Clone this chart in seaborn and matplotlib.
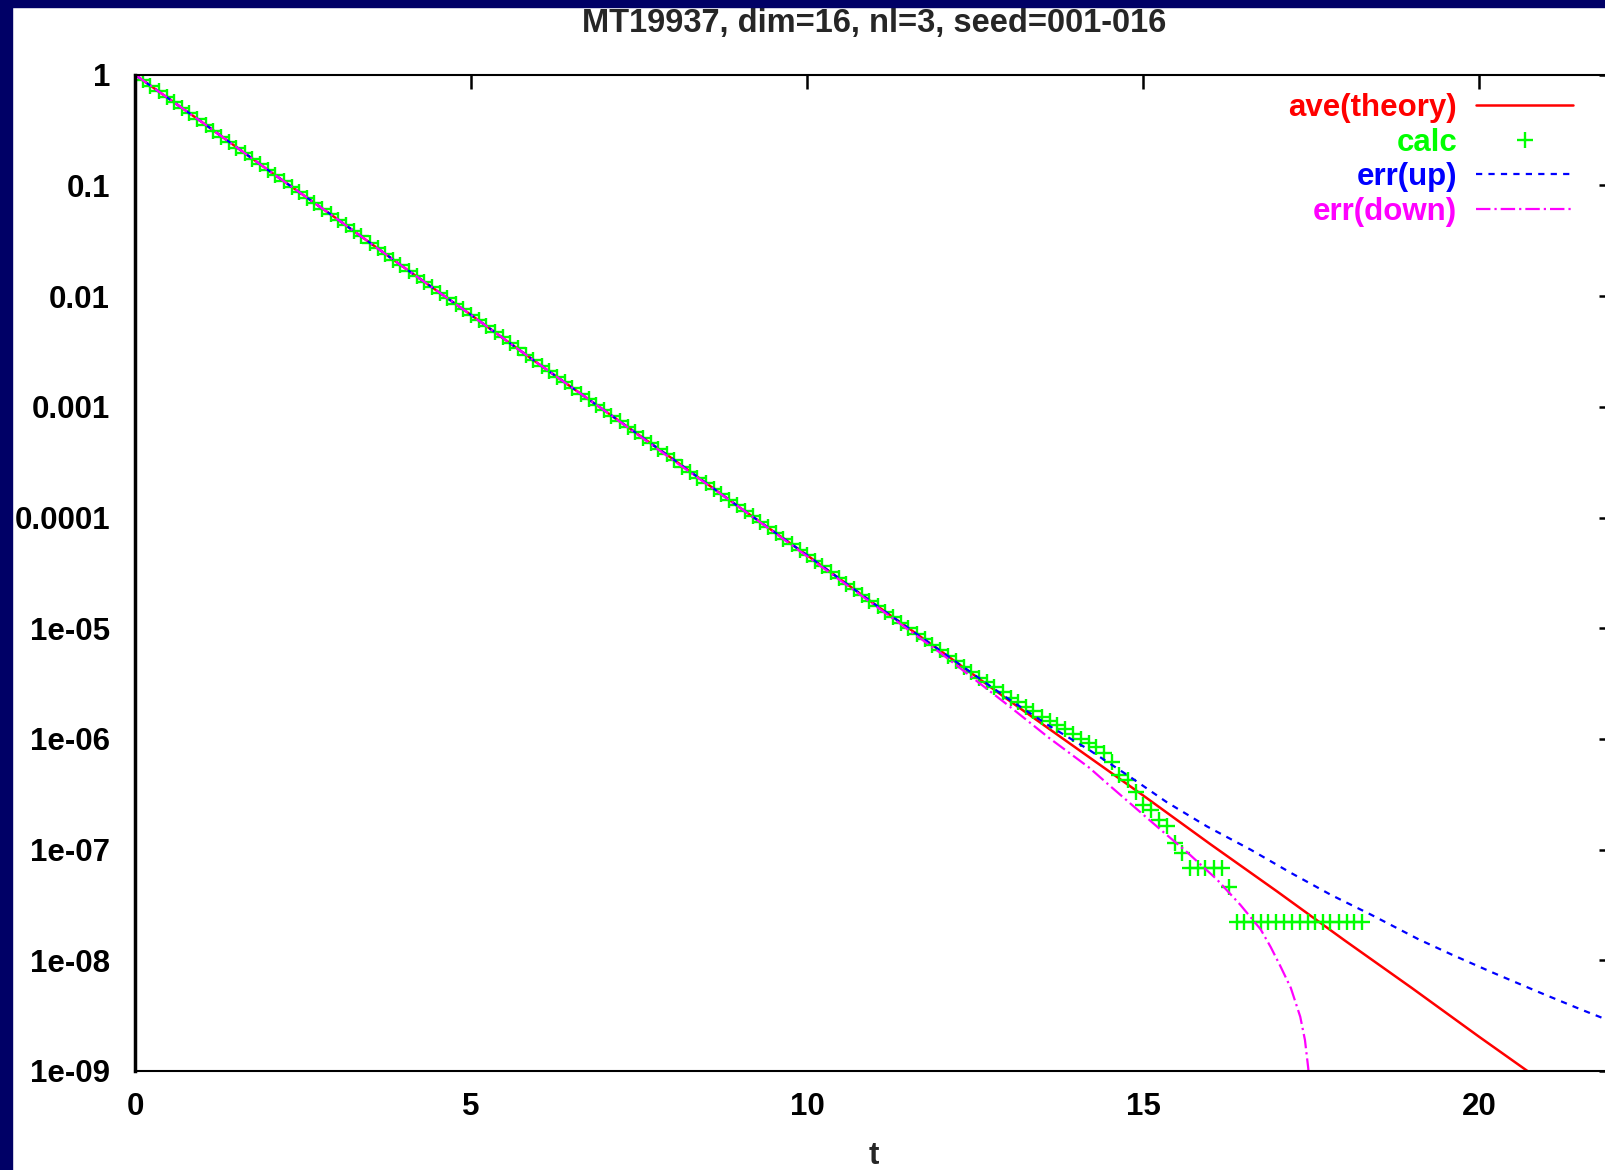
import matplotlib
matplotlib.use('Agg')
import numpy as np
import matplotlib.pyplot as plt
import seaborn as sns
from matplotlib.ticker import FixedLocator, FixedFormatter, LogLocator, NullFormatter
from matplotlib.patches import Rectangle

# values (y kept as log10 of the value)
theory_t = list(range(22))
theory_log = [0.00, -0.43, -0.87, -1.30, -1.74, -2.17, -2.61, -3.04, -3.47, -3.91, -4.34,
              -4.78, -5.21, -5.65, -6.08, -6.51, -6.95, -7.38, -7.82, -8.25, -8.69, -9.12]

err_up_t = [0, 1, 2, 3, 4, 5, 6, 7, 8, 9, 10, 11, 12, 13,
            13.6, 14.2, 14.8, 15.35, 15.95, 16.6, 17.2, 17.8, 18.4, 19.1, 19.6, 20.2, 20.9, 21.5, 22.0]
err_up_log = [0.00, -0.43, -0.87, -1.30, -1.74, -2.17, -2.61, -3.04, -3.47, -3.91, -4.34, -4.78, -5.21, -5.64,
              -5.88, -6.10, -6.34, -6.57, -6.79, -7.00, -7.21, -7.41, -7.59, -7.81, -7.95, -8.11, -8.29, -8.44, -8.56]

err_down_t = [0, 1, 2, 3, 4, 5, 6, 7, 8, 9, 10, 11, 12,
              13, 13.6, 14.2, 14.5, 14.9, 15.3, 15.65, 16.1, 16.45, 16.75, 16.9, 17.05, 17.2, 17.34, 17.41, 17.46, 17.49]
err_down_log = [0.00, -0.43, -0.87, -1.30, -1.74, -2.17, -2.61, -3.04, -3.48, -3.91, -4.35, -4.79, -5.23,
                -5.70, -5.99, -6.26, -6.42, -6.63, -6.84, -7.02, -7.27, -7.50, -7.72, -7.88, -8.06, -8.25, -8.51, -8.72, -8.98, -9.40]

calc_t = [0.00, 0.12, 0.23, 0.35, 0.47, 0.58, 0.70, 0.81, 0.93, 1.05,
          1.16, 1.28, 1.40, 1.51, 1.63, 1.74, 1.86, 1.98, 2.09, 2.21,
          2.33, 2.44, 2.56, 2.67, 2.79, 2.91, 3.02, 3.14, 3.26, 3.37,
          3.49, 3.61, 3.72, 3.84, 3.95, 4.07, 4.19, 4.30, 4.42, 4.54,
          4.65, 4.77, 4.88, 5.00, 5.12, 5.23, 5.35, 5.47, 5.58, 5.70,
          5.82, 5.93, 6.05, 6.16, 6.28, 6.40, 6.51, 6.63, 6.75, 6.86,
          6.98, 7.09, 7.21, 7.33, 7.44, 7.56, 7.68, 7.79, 7.91, 8.02,
          8.14, 8.26, 8.37, 8.49, 8.61, 8.72, 8.84, 8.96, 9.07, 9.19,
          9.30, 9.42, 9.54, 9.65, 9.77, 9.89, 10.00, 10.12, 10.23, 10.35,
          10.47, 10.58, 10.70, 10.82, 10.93, 11.05, 11.16, 11.28, 11.40, 11.51,
          11.63, 11.75, 11.86, 11.98, 12.10, 12.21, 12.33, 12.44, 12.56, 12.68,
          12.79, 12.91, 13.03, 13.14, 13.26, 13.37, 13.49, 13.61, 13.72, 13.84,
          13.96, 14.07, 14.19, 14.30, 14.42, 14.54, 14.65, 14.77, 14.89, 15.00,
          15.12, 15.24, 15.35, 15.47, 15.58, 15.70, 15.82, 15.93, 16.05, 16.17,
          16.28, 16.40, 16.51, 16.63, 16.75, 16.86, 16.98, 17.10, 17.21, 17.33,
          17.45, 17.56, 17.68, 17.79, 17.91, 18.03, 18.14, 18.26]
calc_log = [0.00, -0.05, -0.10, -0.15, -0.20, -0.25, -0.30, -0.35, -0.40, -0.45,
            -0.51, -0.56, -0.61, -0.66, -0.71, -0.76, -0.81, -0.86, -0.91, -0.96,
            -1.01, -1.06, -1.11, -1.16, -1.21, -1.26, -1.31, -1.36, -1.41, -1.46,
            -1.52, -1.57, -1.62, -1.67, -1.72, -1.77, -1.82, -1.87, -1.92, -1.97,
            -2.02, -2.07, -2.12, -2.17, -2.22, -2.27, -2.32, -2.37, -2.42, -2.47,
            -2.53, -2.58, -2.63, -2.68, -2.73, -2.78, -2.83, -2.88, -2.93, -2.98,
            -3.03, -3.08, -3.13, -3.18, -3.23, -3.28, -3.33, -3.38, -3.43, -3.48,
            -3.54, -3.59, -3.64, -3.69, -3.74, -3.79, -3.84, -3.89, -3.94, -3.99,
            -4.04, -4.09, -4.14, -4.19, -4.24, -4.29, -4.34, -4.39, -4.44, -4.49,
            -4.55, -4.60, -4.65, -4.70, -4.75, -4.80, -4.85, -4.90, -4.95, -5.00,
            -5.05, -5.10, -5.15, -5.20, -5.25, -5.30, -5.35, -5.40, -5.45, -5.49,
            -5.53, -5.58, -5.63, -5.67, -5.71, -5.75, -5.80, -5.84, -5.87, -5.91,
            -5.96, -6.00, -6.04, -6.07, -6.13, -6.21, -6.33, -6.37, -6.48, -6.60,
            -6.64, -6.73, -6.79, -6.94, -7.03, -7.17, -7.17, -7.17, -7.17, -7.17,
            -7.34, -7.65, -7.65, -7.65, -7.65, -7.65, -7.65, -7.65, -7.65, -7.65,
            -7.65, -7.65, -7.65, -7.65, -7.65, -7.65, -7.65, -7.65]

x_ticks = [0, 5, 10, 15, 20]
y_ticks = [1e-9, 1e-8, 1e-7, 1e-6, 1e-5, 1e-4, 1e-3, 1e-2, 1e-1, 1]
y_labels = ['1e-09', '1e-08', '1e-07', '1e-06', '1e-05', '0.0001', '0.001', '0.01', '0.1', '1']
title = 'MT19937, dim=16, nl=3, seed=001-016'

sns.set_style('white')
plt.rcParams['font.family'] = ['Liberation Sans', 'DejaVu Sans']
plt.rcParams['font.weight'] = 'bold'
plt.rcParams['axes.labelweight'] = 'bold'
plt.rcParams['axes.titleweight'] = 'bold'

FS = 22.5
W, H = 1605, 1170
fig = plt.figure(figsize=(W / 100, H / 100), dpi=100)
fig.patch.set_facecolor('white')
ax = fig.add_axes([135 / W, 1 - 1071 / H, 1478.4 / W, 996.3 / H])
ax.set_yscale('log')

sns.lineplot(x=theory_t, y=10 ** np.array(theory_log), color='#ff0000', lw=1.8,
             label='ave(theory)', ax=ax, errorbar=None)
sns.lineplot(x=calc_t, y=10 ** np.array(calc_log), color='#00ff00', linestyle='', marker='+',
             markersize=12, markeredgewidth=1.7, markeredgecolor='#00ff00',
             label='calc', ax=ax, errorbar=None)
sns.lineplot(x=err_up_t, y=10 ** np.array(err_up_log), color='#0000ff', lw=1.6,
             linestyle=(0, (2.8, 2.8)), label='err(up)', ax=ax, errorbar=None)
sns.lineplot(x=err_down_t, y=10 ** np.array(err_down_log), color='#ff00ff', lw=1.6,
             linestyle=(0, (6.5, 1.8, 1, 1.8)), label='err(down)', ax=ax, errorbar=None)

ax.set_xlim(0, 22)
ax.set_ylim(1e-9, 1)
ax.xaxis.set_major_locator(FixedLocator(x_ticks))
ax.yaxis.set_major_locator(FixedLocator(y_ticks))
ax.yaxis.set_major_formatter(FixedFormatter(y_labels))
ax.yaxis.set_minor_locator(LogLocator(base=10, subs=[2, 5, 8], numticks=20))
ax.yaxis.set_minor_formatter(NullFormatter())

ax.tick_params(axis='both', which='both', direction='in', top=True, right=True,
               labelsize=FS, colors='black')
ax.tick_params(which='major', length=10, width=1.8)
ax.tick_params(which='minor', length=5, width=1.5)
ax.tick_params(axis='y', pad=18)
ax.tick_params(axis='x', pad=15)

for side, sp in ax.spines.items():
    sp.set_visible(True)
    sp.set_color('black')
    sp.set_linewidth(1.5)
ax.spines['left'].set_linewidth(2.5)

ax.set_xlabel('t', fontsize=FS, fontweight='bold')
ax.xaxis.set_label_coords(0.5, -0.0703)
ax.set_ylabel('')
ax.set_title(title, fontsize=23.5, fontweight='bold', pad=31)

handles, labels = ax.get_legend_handles_labels()
ax.legend(handles, labels, loc='upper right', bbox_to_anchor=(1573 / W, 1 - 93 / H),
          bbox_transform=fig.transFigure, markerfirst=False, frameon=False,
          labelcolor='linecolor', fontsize=FS, handlelength=3.1, handletextpad=0.61,
          borderpad=0, borderaxespad=0, labelspacing=0.15)

# navy frame strips on the left and top edges
fig.add_artist(Rectangle((0, 0), 12 / W, 1, transform=fig.transFigure, color='#000066', zorder=10))
fig.add_artist(Rectangle((0, 1 - 7 / H), 1, 7 / H, transform=fig.transFigure, color='#000066', zorder=10))

fig.savefig('out.png', dpi=100)
